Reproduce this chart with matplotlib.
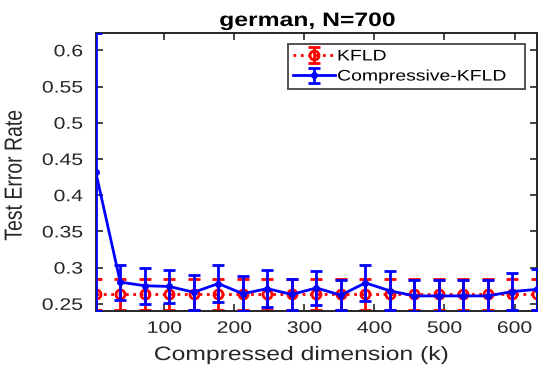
import numpy as np
import matplotlib
matplotlib.use("Agg")
import matplotlib.pyplot as plt
from matplotlib.patheffects import AbstractPathEffect
from matplotlib.transforms import Affine2D

plt.rcParams['font.family'] = ['Liberation Sans', 'DejaVu Sans']


class StretchX(AbstractPathEffect):
    """Widen glyphs horizontally (screen x) about a chosen anchor."""

    def __init__(self, sx=1.27, anchor='center'):
        super().__init__()
        self.sx = sx
        self.anchor = anchor

    def draw_path(self, renderer, gc, tpath, affine, rgbFace=None):
        ext = tpath.get_extents(affine)
        if self.anchor == 'left':
            x0 = ext.x0
        elif self.anchor == 'right':
            x0 = ext.x1
        else:
            x0 = 0.5 * (ext.x0 + ext.x1)
        t = affine + Affine2D().translate(-x0, 0).scale(self.sx, 1).translate(x0, 0)
        renderer.draw_path(gc, tpath, t, rgbFace)


# Compressed dimension k
k = [2, 37, 72, 107, 142, 177, 212, 247, 282, 317, 352, 387, 422, 457, 492, 527, 562, 597, 632]

# KFLD test error (mean, std)
kfld_mean = [0.263] * 19
kfld_err = [0.022] * 19

# Compressive-KFLD test error (mean, std)
ckfld_mean = [0.432, 0.280, 0.275, 0.274, 0.266, 0.278, 0.264, 0.271, 0.263, 0.272,
              0.262, 0.279, 0.268, 0.261, 0.261, 0.261, 0.261, 0.267, 0.270]
ckfld_err = [0.192, 0.024, 0.025, 0.023, 0.024, 0.025, 0.024, 0.026, 0.022, 0.024,
             0.021, 0.025, 0.027, 0.022, 0.022, 0.022, 0.022, 0.026, 0.028]

SX = 1.27
DARK = '#262626'

fig = plt.figure(figsize=(5.38, 3.66), dpi=100)
ax = fig.add_axes([0.178, 0.150, 0.820, 0.760])

ax.errorbar(k, kfld_mean, yerr=kfld_err, color=(1, 0, 0), linestyle=':', linewidth=2,
            marker='o', markersize=6.5, markerfacecolor='none', markeredgewidth=2,
            capsize=4, capthick=2, elinewidth=2, label='KFLD', zorder=2)
ax.errorbar(k, ckfld_mean, yerr=ckfld_err, color=(0, 0, 1), linestyle='-', linewidth=2,
            marker='o', markersize=4, capsize=4, capthick=2, elinewidth=2,
            label='Compressive-KFLD', zorder=3)

# axis limits follow the data extent
ax.set_xlim(k[0], k[-1])
ax.set_ylim(ckfld_mean[0] - ckfld_err[0], ckfld_mean[0] + ckfld_err[0])
ax.set_xticks([100, 200, 300, 400, 500, 600])
ax.set_yticks([0.25, 0.3, 0.35, 0.4, 0.45, 0.5, 0.55, 0.6])
ax.set_yticklabels(['0.25', '0.3', '0.35', '0.4', '0.45', '0.5', '0.55', '0.6'])
ax.tick_params(direction='in', top=True, right=True, length=5, width=1.2,
               labelsize=12, colors=DARK, labelcolor=DARK)
ax.tick_params(axis='x', pad=7)
ax.tick_params(axis='y', pad=9.4)
for s in ax.spines.values():
    s.set_linewidth(1.4)
    s.set_color(DARK)

xl = ax.set_xlabel('Compressed dimension (k)', fontsize=14, color=DARK)
ax.xaxis.set_label_coords(0.468, -0.176)
xl.set_verticalalignment('baseline')
yl = ax.set_ylabel('Test Error Rate', fontsize=14, color=DARK)
ax.yaxis.set_label_coords(-0.163, 0.49)
tl = ax.set_title('german, N=700', fontsize=14, fontweight='bold', x=0.48, y=1.025, pad=0)

leg = ax.legend(loc='upper left', fontsize=11, frameon=True, fancybox=False,
                edgecolor=DARK, handlelength=2.75, borderpad=0.35,
                labelspacing=0.4, handletextpad=0.15, borderaxespad=0,
                mode='expand', bbox_to_anchor=(0.435, 0.795, 0.538, 0.165))
leg.get_frame().set_linewidth(1.4)

for t in ax.get_xticklabels() + [xl, yl, tl]:
    t.set_path_effects([StretchX(SX, 'center')])
for t in ax.get_yticklabels():
    t.set_path_effects([StretchX(SX, 'right')])
for t in leg.get_texts():
    t.set_path_effects([StretchX(SX, 'left')])

fig.savefig('out.png', dpi=100)
